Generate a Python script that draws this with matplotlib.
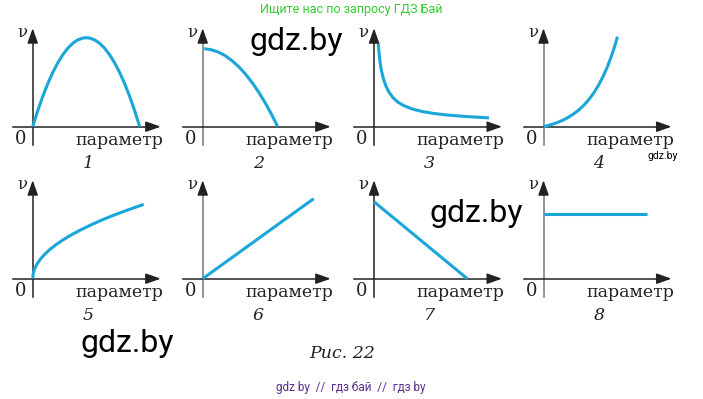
import matplotlib
matplotlib.use("Agg")
from matplotlib import pyplot as plt

W, H = 703, 399

# curve data, x in px from the v axis, v in px above the x axis
curves = {
    1: ([0, 5, 10, 15, 20, 25, 30, 35, 40, 45, 50, 53.5,
         57, 62, 67, 72, 77, 82, 87, 92, 97, 102, 107],
        [0, 15.9, 30.2, 42.9, 54.1, 63.7, 71.8, 78.4, 83.3, 86.8, 88.6, 89,
         88.6, 86.8, 83.3, 78.4, 71.8, 63.7, 54.1, 42.9, 30.2, 15.9, 0]),
    2: ([1.5, 8, 15, 22, 29, 36, 43, 50, 56, 62, 67, 71, 75],
        [78, 77.1, 74.9, 71.3, 66.3, 60, 52.4, 43.3, 34.5, 24.7, 15.8, 8.1, 0]),
    3: ([4.3, 5, 6, 7, 8.5, 10, 12, 15, 19, 24, 30, 38, 48, 60, 75, 95, 115],
        [83.4, 74, 65, 58.5, 51.5, 46, 40.5, 34.5, 29, 24.5, 21,
         17.8, 15.2, 13.2, 11.5, 10, 8.8]),
    4: ([0, 5, 10, 15, 20, 25, 30, 35, 40, 45, 50, 55, 60, 64, 68, 71, 74],
        [0, 1.3, 2.8, 4.6, 6.8, 9.5, 12.7, 16.5, 21.1, 26.7, 33.3, 41.4,
         51.1, 60.2, 70.8, 79.8, 90]),
    5: ([0, 0.5, 1.5, 3, 5, 8, 12, 17, 23, 30, 38, 47, 57, 68, 80, 95, 111],
        [0, 5, 8.6, 12.2, 15.8, 19.9, 24.4, 29.1, 33.8, 38.6, 43.5, 48.3,
         53.2, 58.2, 63.1, 68.7, 74.3]),
    6: ([0, 111], [0, 80]),
    7: ([0, 93.3], [77, 0]),
    8: ([0, 103.7], [65, 65]),
}

origins_x = [32.7, 202.7, 374, 543.5]
origins_y = [126.7, 278.7]

blue = '#1ba6d9'
ink = '#222222'
serif = 'DejaVu Serif'

fig = plt.figure(figsize=(W / 100, H / 100), dpi=100)
fig.patch.set_facecolor('white')

for n in range(1, 9):
    row, col = (n - 1) // 4, (n - 1) % 4
    ox, oy = origins_x[col], origins_y[row]
    x0, x1, y0, y1 = -22, 132, -20, 102
    ax = fig.add_axes([(ox + x0) / W, (H - (oy - y0)) / H,
                       (x1 - x0) / W, (y1 - y0) / H])
    ax.set_xlim(x0, x1)
    ax.set_ylim(y0, y1)
    ax.axis('off')

    axcol = '#777777' if col % 2 == 1 else ink
    ax.plot([0, 0], [-18, 90], color=axcol, lw=1.1)
    ax.plot([-20, 120], [0, 0], color=ink, lw=1.1)
    ax.annotate('', xy=(0, 98.5), xytext=(0, 85),
                arrowprops=dict(arrowstyle='-|>,head_length=0.9,head_width=0.32',
                                color=ink, lw=1.1, shrinkA=0, shrinkB=0))
    ax.annotate('', xy=(128, 0), xytext=(115, 0),
                arrowprops=dict(arrowstyle='-|>,head_length=0.9,head_width=0.32',
                                color=ink, lw=1.1, shrinkA=0, shrinkB=0))

    xs, vs = curves[n]
    ax.plot(xs, vs, color=blue, lw=2.2, solid_capstyle='butt',
            solid_joinstyle='round', clip_on=False)

    ax.text(-10.5, 94, 'ν', family=serif, fontsize=12, ha='center', va='center',
            color=ink)
    ax.text(-12, -12, '0', family=serif, fontsize=13, ha='center', va='center',
            color=ink)
    ax.text(130.6, -13.5, 'параметр', family=serif, fontsize=12.5, ha='right',
            va='center', color=ink)
    ax.text(55.5, -36.5, str(n), family=serif, style='italic', fontsize=12.5,
            ha='center', va='center', color=ink)

fig.text(342 / W, 1 - 353 / H, 'Рис. 22', family=serif, style='italic',
         fontsize=12.5, ha='center', va='center', color=ink)

fig.text(351 / W, 1 - 9 / H, 'Ищите нас по запросу ГДЗ Бай', family='Roboto',
         fontsize=9, ha='center', va='center', color='#33cc33')
fig.text(351 / W, 1 - 388 / H, 'gdz by  //  гдз бай  //  гдз by', family='Roboto',
         fontsize=8.5, ha='center', va='center', color='#5e2b8f')

for wx, wy in [(296, 42), (476, 213), (127, 343)]:
    fig.text(wx / W, 1 - wy / H, 'gdz.by', family='Roboto', fontsize=23,
             ha='center', va='center', color='black')
fig.text(663 / W, 1 - 156 / H, 'gdz.by', family='Roboto', fontsize=7.5,
         ha='center', va='center', color='black')

fig.savefig('out.png', dpi=100)
